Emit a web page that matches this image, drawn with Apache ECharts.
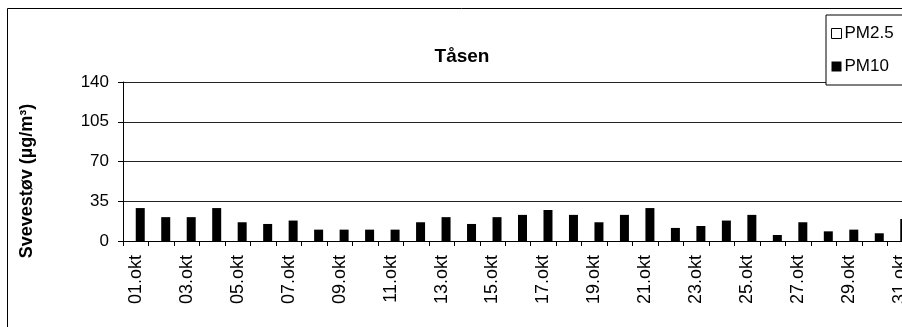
<!DOCTYPE html>
<html>
<head>
<meta charset="utf-8">
<script src="https://cdn.jsdelivr.net/npm/echarts@6/dist/echarts.min.js"></script>
<style>
  html, body { margin: 0; padding: 0; background: #fff; overflow: hidden; width: 902px; height: 327px; }
  #chart { width: 914px; height: 327px; }
</style>
</head>
<body>
<div id="chart"></div>
<script>
// Daily particulate matter, October
const days = ['01.okt','02.okt','03.okt','04.okt','05.okt','06.okt','07.okt','08.okt','09.okt','10.okt',
              '11.okt','12.okt','13.okt','14.okt','15.okt','16.okt','17.okt','18.okt','19.okt','20.okt',
              '21.okt','22.okt','23.okt','24.okt','25.okt','26.okt','27.okt','28.okt','29.okt','30.okt','31.okt'];
const pm25 = [null,null,null,null,null,null,null,null,null,null,
              null,null,null,null,null,null,null,null,null,null,
              null,null,null,null,null,null,null,null,null,null,null];
const pm10 = [29,21,21,29,16.5,15,18,10,10,10,
              10,16.5,21,15,21,23,27.3,23,16.5,23,
              29,11.5,13.2,18,23,5.3,16.5,8.5,10,6.8,19.4];
const yTicks = [0, 35, 70, 105, 140];

const FONT = 'Arial, "Liberation Sans", sans-serif';

// The drawing area is a little wider than the visible window, so the last
// category, the legend box and the frame run off the right edge.
const chart = echarts.init(document.getElementById('chart'), null, { renderer: 'canvas' });
chart.setOption({
  backgroundColor: '#fff',
  animation: false,
  title: {
    text: 'Tåsen',
    left: 457,
    top: 42,
    textAlign: 'center',
    textStyle: { fontFamily: FONT, fontSize: 19, fontWeight: 'bold', color: '#000' }
  },
  legend: {
    orient: 'vertical',
    left: 826,
    top: 15,
    padding: [10, 18, 10, 5],
    itemGap: 16,
    itemWidth: 10,
    itemHeight: 10,
    icon: 'rect',
    borderColor: '#000',
    borderWidth: 1,
    backgroundColor: '#fff',
    textStyle: { fontFamily: FONT, fontSize: 17, color: '#000', padding: [0, 0, 0, -2] },
    data: [
      { name: 'PM2.5', itemStyle: { color: '#fff', borderColor: '#000', borderWidth: 1 } },
      { name: 'PM10', itemStyle: { color: '#000' } }
    ]
  },
  grid: { left: 123, right: 1, top: 82, bottom: 86, containLabel: false },
  xAxis: {
    type: 'category',
    data: days,
    boundaryGap: true,
    axisLine: { lineStyle: { color: '#000', width: 1 } },
    axisTick: { show: true, interval: 0, length: 5, lineStyle: { color: '#000' } },
    axisLabel: {
      interval: 1,
      rotate: 90,
      margin: 14,
      fontFamily: FONT,
      fontSize: 18,
      color: '#000'
    },
    splitLine: { show: false }
  },
  yAxis: {
    type: 'value',
    min: yTicks[0],
    max: yTicks[yTicks.length - 1],
    interval: yTicks[1] - yTicks[0],
    axisLine: { show: true, lineStyle: { color: '#000', width: 1 } },
    axisTick: { show: true, length: 5, lineStyle: { color: '#000' } },
    axisLabel: { margin: 14, fontFamily: FONT, fontSize: 17, color: '#000' },
    splitLine: { show: true, lineStyle: { color: '#222', width: 1 } }
  },
  graphic: [
    {
      type: 'rect',
      silent: true,
      z: -10,
      shape: { x: 7.5, y: 8.5, width: 2000, height: 1000 },
      style: { fill: null, stroke: '#000', lineWidth: 1 }
    },
    {
      type: 'text',
      silent: true,
      x: 27,
      y: 181,
      rotation: Math.PI / 2,
      style: {
        text: 'Svevestøv (µg/m³)',
        fontFamily: FONT,
        fontSize: 18,
        fontWeight: 'bold',
        fill: '#000',
        align: 'center',
        verticalAlign: 'middle'
      }
    }
  ],
  series: [
    {
      name: 'PM2.5',
      type: 'bar',
      data: pm25,
      barWidth: 9,
      barGap: '0%',
      itemStyle: { color: '#fff', borderColor: '#000', borderWidth: 1 }
    },
    {
      name: 'PM10',
      type: 'bar',
      data: pm10,
      barWidth: 9,
      barGap: '0%',
      itemStyle: { color: '#000' }
    }
  ]
});
</script>
</body>
</html>
